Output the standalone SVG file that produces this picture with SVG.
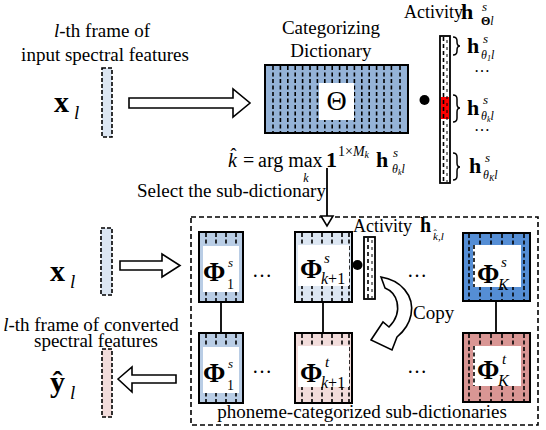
<svg xmlns="http://www.w3.org/2000/svg" width="546" height="430" viewBox="0 0 546 430">
<style>
.t{font-family:"Liberation Serif","Times New Roman",serif;fill:#000}
.n{font-size:19px}
.b{font-weight:bold}
.i{font-style:italic}
.ol{fill:none;stroke:#000;stroke-width:2}
.dv{fill:none;stroke:#000;stroke-width:1.6;stroke-dasharray:4 2.5}
.vec{stroke:#000;stroke-width:1.6;stroke-dasharray:4 2}
.ha{fill:#fff;stroke:#000;stroke-width:1.6;stroke-linejoin:miter}
.ln{stroke:#000;stroke-width:1.8;fill:none}
.br{fill:none;stroke:#000;stroke-width:1.5}
</style>

<!-- Top section -->
<g id="input-top">
  <text class="t n" x="102" y="37" text-anchor="middle"><tspan class="i">l</tspan>-th frame of</text>
  <text class="t n" x="105" y="61" text-anchor="middle">input spectral features</text>
  <rect class="vec" x="102" y="68" width="10" height="69" fill="#dce6f2"/>
  <text class="t b" x="54" y="112" style="font-size:30px">x</text>
  <text class="t i" x="74" y="119" style="font-size:19px">l</text>
</g>

<g id="dictionary">
  <text class="t n" x="331" y="34" text-anchor="middle">Categorizing</text>
  <text class="t n" x="331" y="57" text-anchor="middle">Dictionary</text>
  <rect x="265" y="65" width="143" height="68" fill="#95b3d7"/>
  <g class="dv">
    <line x1="273" y1="66" x2="273" y2="132"/>
    <line x1="280.4" y1="66" x2="280.4" y2="132"/>
    <line x1="287.8" y1="66" x2="287.8" y2="132"/>
    <line x1="295.2" y1="66" x2="295.2" y2="132"/>
    <line x1="302.6" y1="66" x2="302.6" y2="132"/>
    <line x1="310" y1="66" x2="310" y2="132"/>
    <line x1="317.4" y1="66" x2="317.4" y2="132"/>
    <line x1="324.8" y1="66" x2="324.8" y2="132"/>
    <line x1="332.2" y1="66" x2="332.2" y2="132"/>
    <line x1="339.6" y1="66" x2="339.6" y2="132"/>
    <line x1="347" y1="66" x2="347" y2="132"/>
    <line x1="354.4" y1="66" x2="354.4" y2="132"/>
    <line x1="361.8" y1="66" x2="361.8" y2="132"/>
    <line x1="369.2" y1="66" x2="369.2" y2="132"/>
    <line x1="376.6" y1="66" x2="376.6" y2="132"/>
    <line x1="384" y1="66" x2="384" y2="132"/>
    <line x1="391.4" y1="66" x2="391.4" y2="132"/>
    <line x1="400" y1="66" x2="400" y2="132"/>
  </g>
  <rect x="319" y="83" width="35" height="37" fill="#fff"/>
  <rect class="ol" x="265" y="65" width="143" height="68"/>
  <text class="t" x="336.5" y="110" style="font-size:28px" text-anchor="middle">Θ</text>
</g>

<g id="activity-top">
  <circle cx="424.5" cy="100" r="5"/>
  <text class="t" x="404" y="18" style="font-size:18px">Activity</text>
  <text class="t b" x="461" y="19" style="font-size:22px">h</text>
  <text class="t i" x="482" y="11" style="font-size:13px">s</text>
  <text class="t" x="481" y="25" style="font-size:12px"><tspan class="b">Θ</tspan><tspan class="i">l</tspan></text>
  <rect x="440" y="36" width="10" height="147" fill="#fff" stroke="#000" stroke-width="1.8"/>
  <rect x="441" y="97" width="8" height="22" fill="#ff0000"/>
  <line x1="443.5" y1="37" x2="443.5" y2="182" stroke="#000" stroke-width="1.6" stroke-dasharray="4 3"/>
  <line x1="447" y1="40" x2="447" y2="182" stroke="#000" stroke-width="1" stroke-dasharray="3 4"/>
  <path class="br" d="M453,37 q4,0 4,4 v1 q0,4 3,4 q-3,0 -3,4 v1 q0,4 -4,4"/>
  <path class="br" d="M453,95 q4,0 4,4 v5 q0,4 3,4 q-3,0 -3,4 v6 q0,4 -4,4"/>
  <path class="br" d="M453,153 q4,0 4,4 v6 q0,4 3,4 q-3,0 -3,4 v5 q0,4 -4,4"/>
  <text class="t b" x="467" y="53" style="font-size:22px">h</text>
  <text class="t i" x="483" y="43" style="font-size:13px">s</text>
  <text class="t i" x="481" y="59" style="font-size:12px">θ<tspan style="font-size:8px" dy="2">1</tspan><tspan dy="-2">l</tspan></text>
  <text class="t" x="474" y="72" style="font-size:16px">…</text>
  <text class="t b" x="467" y="115" style="font-size:22px">h</text>
  <text class="t i" x="483" y="104" style="font-size:13px">s</text>
  <text class="t i" x="481" y="120" style="font-size:12px">θ<tspan style="font-size:8px" dy="2">k</tspan><tspan dy="-2">l</tspan></text>
  <text class="t" x="474" y="131" style="font-size:16px">…</text>
  <text class="t b" x="469" y="173" style="font-size:22px">h</text>
  <text class="t i" x="485" y="162" style="font-size:13px">s</text>
  <text class="t i" x="483" y="179" style="font-size:12px">θ<tspan style="font-size:8px" dy="2">K</tspan><tspan dy="-2">l</tspan></text>
</g>

<g id="formula">
  <text class="t i" x="228" y="167" style="font-size:20px">k</text>
  <text class="t" x="230.5" y="161" style="font-size:18px">ˆ</text>
  <text class="t" x="243" y="167" style="font-size:20px">=</text>
  <text class="t" x="258" y="167" style="font-size:20px">arg max</text>
  <text class="t i" x="306" y="182" style="font-size:12px" text-anchor="middle">k</text>
  <text class="t b" x="326" y="167" style="font-size:22px">1</text>
  <text class="t" x="338" y="156" style="font-size:14px">1×<tspan class="i">M</tspan><tspan class="i" style="font-size:10px" dy="2">k</tspan></text>
  <text class="t b" x="376" y="167" style="font-size:22px">h</text>
  <text class="t i" x="393" y="157" style="font-size:13px">s</text>
  <text class="t i" x="392" y="173" style="font-size:12px">θ<tspan style="font-size:8px" dy="2">k</tspan><tspan dy="-2">l</tspan></text>
  <text class="t n" x="137" y="197">Select the sub-dictionary</text>
</g>

<!-- Bottom section -->
<g id="input-bottom">
  <text class="t b" x="50" y="281" style="font-size:30px">x</text>
  <text class="t i" x="70" y="288" style="font-size:19px">l</text>
  <rect class="vec" x="101" y="228" width="11" height="67" fill="#dce6f2"/>
</g>

<g id="output-bottom">
  <text class="t n" x="91" y="331" text-anchor="middle"><tspan class="i">l</tspan>-th frame of converted</text>
  <text class="t n" x="96" y="347" text-anchor="middle">spectral features</text>
  <rect class="vec" x="102" y="349" width="10" height="68" fill="#f2dcdb"/>
  <text class="t b" x="50" y="392" style="font-size:30px">ŷ</text>
  <text class="t i" x="70" y="399" style="font-size:19px">l</text>
</g>

<g id="sub-dictionaries">
  <rect x="191" y="217" width="347" height="208" fill="none" stroke="#000" stroke-width="1.6" stroke-dasharray="5 3"/>
  <text class="t n" x="362" y="418" text-anchor="middle">phoneme-categorized sub-dictionaries</text>
</g>

<g id="phi1-s">
  <rect x="199" y="232" width="44" height="70" fill="#b9cde5"/>
  <g class="dv"><line x1="206" y1="233" x2="206" y2="301"/><line x1="216" y1="233" x2="216" y2="301"/><line x1="226" y1="233" x2="226" y2="301"/><line x1="236" y1="233" x2="236" y2="301"/></g>
  <rect x="203" y="246" width="36" height="46" fill="#fff"/>
  <rect class="ol" x="199" y="232" width="44" height="70"/>
  <text class="t b" x="203" y="281" style="font-size:27px">Φ</text>
  <text class="t i" x="228" y="267" style="font-size:13px">s</text>
  <text class="t" x="227" y="289" style="font-size:14px">1</text>
</g>

<g id="phi1-t">
  <rect x="199" y="333" width="44" height="70" fill="#b9cde5"/>
  <g class="dv"><line x1="206" y1="334" x2="206" y2="402"/><line x1="216" y1="334" x2="216" y2="402"/><line x1="226" y1="334" x2="226" y2="402"/><line x1="236" y1="334" x2="236" y2="402"/></g>
  <rect x="203" y="347" width="36" height="46" fill="#fff"/>
  <rect class="ol" x="199" y="333" width="44" height="70"/>
  <text class="t b" x="203" y="382" style="font-size:27px">Φ</text>
  <text class="t i" x="228" y="368" style="font-size:13px">s</text>
  <text class="t" x="227" y="390" style="font-size:14px">1</text>
</g>

<g id="phik1-s">
  <rect x="295" y="232" width="57" height="70" fill="#dce6f2"/>
  <g class="dv"><line x1="302" y1="233" x2="302" y2="301"/><line x1="312" y1="233" x2="312" y2="301"/><line x1="322" y1="233" x2="322" y2="301"/><line x1="332" y1="233" x2="332" y2="301"/><line x1="342" y1="233" x2="342" y2="301"/><line x1="349" y1="233" x2="349" y2="301"/></g>
  <rect x="298" y="245" width="51" height="41" fill="#fff"/>
  <rect class="ol" x="295" y="232" width="57" height="70"/>
  <text class="t b" x="300" y="278" style="font-size:27px">Φ</text>
  <text class="t i" x="324" y="263" style="font-size:15px">s</text>
  <text class="t" x="321" y="284" style="font-size:16px"><tspan class="i">k</tspan>+1</text>
</g>

<g id="phik1-t">
  <rect x="295" y="333" width="57" height="70" fill="#f2dcdb"/>
  <g class="dv"><line x1="302" y1="334" x2="302" y2="402"/><line x1="312" y1="334" x2="312" y2="402"/><line x1="322" y1="334" x2="322" y2="402"/><line x1="332" y1="334" x2="332" y2="402"/><line x1="342" y1="334" x2="342" y2="402"/><line x1="349" y1="334" x2="349" y2="402"/></g>
  <rect x="298" y="346" width="51" height="41" fill="#fff"/>
  <rect class="ol" x="295" y="333" width="57" height="70"/>
  <text class="t b" x="300" y="382" style="font-size:27px">Φ</text>
  <text class="t i" x="325" y="367" style="font-size:15px">t</text>
  <text class="t" x="321" y="388" style="font-size:16px"><tspan class="i">k</tspan>+1</text>
</g>

<g id="activity-bottom">
  <circle cx="357.5" cy="265" r="5"/>
  <rect x="364" y="237" width="11" height="62" fill="#fff" stroke="#000" stroke-width="1.8"/>
  <line x1="368" y1="238" x2="368" y2="298" stroke="#000" stroke-width="1.6" stroke-dasharray="4 3"/>
  <line x1="372" y1="240" x2="372" y2="298" stroke="#000" stroke-width="1" stroke-dasharray="3 4"/>
  <text class="t" x="353" y="232" style="font-size:18px">Activity</text>
  <text class="t b" x="420" y="232" style="font-size:20px">h</text>
  <text class="t i" x="433" y="240" style="font-size:11px">k<tspan style="font-style:normal">,</tspan>l</text>
  <text class="t" x="433.5" y="237" style="font-size:10px">ˆ</text>
</g>

<g id="phiK-s">
  <rect x="463" y="233" width="67" height="68" fill="#558ed5"/>
  <g class="dv"><line x1="469" y1="234" x2="469" y2="300"/><line x1="480" y1="234" x2="480" y2="300"/><line x1="491" y1="234" x2="491" y2="300"/><line x1="502" y1="234" x2="502" y2="300"/><line x1="513" y1="234" x2="513" y2="300"/><line x1="524" y1="234" x2="524" y2="300"/></g>
  <rect x="473" y="245" width="48" height="42" fill="#fff"/>
  <line class="dv" x1="474" y1="245" x2="474" y2="287"/>
  <rect class="ol" x="463" y="233" width="67" height="68"/>
  <text class="t b" x="477" y="283" style="font-size:27px">Φ</text>
  <text class="t i" x="501" y="267" style="font-size:15px">s</text>
  <text class="t i" x="498" y="290" style="font-size:16px">K</text>
</g>

<g id="phiK-t">
  <rect x="463" y="333" width="67" height="69" fill="#d99694"/>
  <g class="dv"><line x1="469" y1="334" x2="469" y2="401"/><line x1="480" y1="334" x2="480" y2="401"/><line x1="491" y1="334" x2="491" y2="401"/><line x1="502" y1="334" x2="502" y2="401"/><line x1="513" y1="334" x2="513" y2="401"/><line x1="524" y1="334" x2="524" y2="401"/></g>
  <rect x="473" y="346" width="48" height="40" fill="#fff"/>
  <line class="dv" x1="474" y1="346" x2="474" y2="386"/>
  <rect class="ol" x="463" y="333" width="67" height="69"/>
  <text class="t b" x="477" y="379" style="font-size:27px">Φ</text>
  <text class="t i" x="502" y="364" style="font-size:15px">t</text>
  <text class="t i" x="498" y="386" style="font-size:16px">K</text>
</g>

<g id="ellipses">
  <text class="t" x="252" y="277" style="font-size:20px">…</text>
  <text class="t" x="252" y="373" style="font-size:20px">…</text>
  <text class="t" x="407" y="277" style="font-size:20px">…</text>
  <text class="t" x="407" y="373" style="font-size:20px">…</text>
</g>

<g id="connectors">
  <polygon class="ha" points="129,98 233,98 233,89 250,103 233,117 233,108 129,108"/>
  <polygon class="ha" points="120,261 162,261 162,254 180,265.5 162,277 162,270 120,270"/>
  <polygon class="ha" points="118,379 132,367 132,375 176,375 176,383 132,383 132,392"/>
  <line class="ln" x1="327" y1="168" x2="327" y2="224"/>
  <polygon class="ha" points="321,216 333,216 327,226"/>
  <line class="ln" x1="221" y1="302" x2="221" y2="333"/>
  <line class="ln" x1="323" y1="302" x2="323" y2="333"/>
  <line class="ln" x1="496" y1="301" x2="496" y2="333"/>
  <path class="ha" d="M381,277 C400,280 415,295 411,315 C409,325 403,332 397,337 L392,350 L371,340 L383,322 L389,327 C396,320 399,311 397,302 C395,294 390,290 385,288 Z"/>
  <text class="t n" x="413" y="319">Copy</text>
</g>
</svg>
